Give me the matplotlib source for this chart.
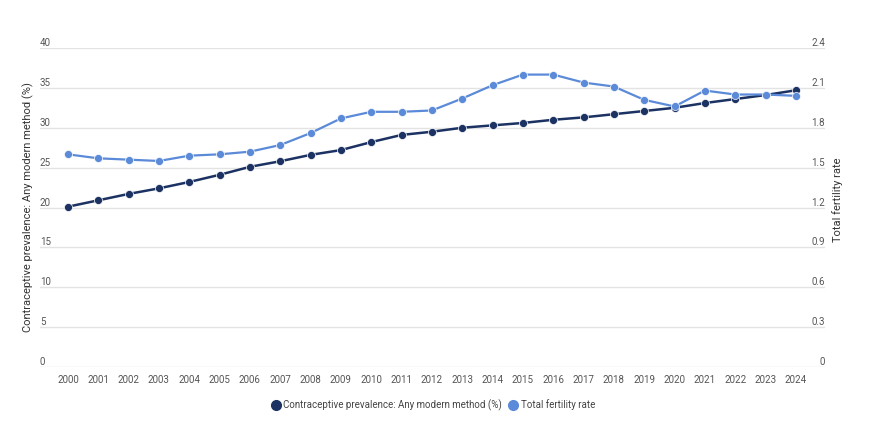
import matplotlib
matplotlib.use("Agg")
import matplotlib.pyplot as plt
from matplotlib.lines import Line2D
import matplotlib.transforms as mtransforms

plt.rcParams['font.family'] = ['Roboto', 'DejaVu Sans']

years = list(range(2000, 2025))
contraceptive = [20.1, 20.9, 21.7, 22.4, 23.2, 24.1, 25.1, 25.8, 26.6, 27.2,
                 28.2, 29.1, 29.5, 30.0, 30.3, 30.6, 31.0, 31.3, 31.7, 32.1,
                 32.5, 33.1, 33.6, 34.1, 34.7]
fertility = [1.60, 1.57, 1.56, 1.55, 1.59, 1.60, 1.62, 1.67, 1.76, 1.87,
             1.92, 1.92, 1.93, 2.02, 2.12, 2.20, 2.20, 2.14, 2.11, 2.01,
             1.96, 2.08, 2.05, 2.05, 2.04]
left_ticks = [0, 5, 10, 15, 20, 25, 30, 35, 40]
right_ticks = [0, 0.3, 0.6, 0.9, 1.2, 1.5, 1.8, 2.1, 2.4]
right_labels = ["0", "0.3", "0.6", "0.9", "1.2", "1.5", "1.8", "2.1", "2.4"]

dark = "#1b3263"
light = "#5b8ad8"
grey = "#555555"

fig = plt.figure(figsize=(8.7, 4.46), dpi=100)
ax = fig.add_axes([40 / 870, 1 - 367 / 446, 785 / 870, 319 / 446])
ax2 = ax.twinx()

ax.set_xlim(1999.08, 2024.96)
ax.set_ylim(0, 40)
ax2.set_ylim(0, 2.4)

# grid
for t in left_ticks:
    ax.axhline(t, color="#e3e3e3", lw=1, zorder=0)

ax.plot(years, contraceptive, color=dark, lw=1.8, marker="o", ms=5.8,
        mec="white", mew=0.5, zorder=3)
ax2.plot(years, fertility, color=light, lw=1.6, marker="o", ms=5.8,
         mec="white", mew=0.5, zorder=4)
ax2.set_zorder(ax.get_zorder() + 1)
ax2.patch.set_visible(False)

for a in (ax, ax2):
    for s in a.spines.values():
        s.set_visible(False)
    a.set_yticks([])
    a.tick_params(length=0)

ax.set_xticks(years)
ax.set_xticklabels([str(y) for y in years], fontsize=7, color=grey)
ax.tick_params(axis="x", pad=6)

# tick labels sitting above the gridlines
tl = mtransforms.blended_transform_factory(ax.transAxes, ax.transData)
for t in left_ticks:
    ax.text(0.0, t, str(t), transform=tl, ha="left", va="bottom",
            fontsize=7, color=grey)
tr = mtransforms.blended_transform_factory(ax2.transAxes, ax2.transData)
for t, lab in zip(right_ticks, right_labels):
    ax2.text(1.0, t, lab, transform=tr, ha="right", va="bottom",
             fontsize=7, color=grey)

fig.text(28 / 870, 1 - 207 / 446, "Contraceptive prevalence: Any modern method (%)",
         rotation=90, ha="center", va="center", fontsize=8, color="#333333")
fig.text(838 / 870, 1 - 200 / 446, "Total fertility rate",
         rotation=90, ha="center", va="center", fontsize=8, color="#333333")

handles = [
    Line2D([], [], ls="none", marker="o", ms=7, color=dark),
    Line2D([], [], ls="none", marker="o", ms=7, color=light),
]
fig.legend(handles, ["Contraceptive prevalence: Any modern method (%)", "Total fertility rate"],
           loc="center", bbox_to_anchor=(433 / 870, 1 - 405 / 446), ncol=2,
           frameon=False, fontsize=7, handletextpad=0.3, columnspacing=0.6,
           labelcolor="#444444", handlelength=1.0)

fig.savefig("out.png", dpi=100)
